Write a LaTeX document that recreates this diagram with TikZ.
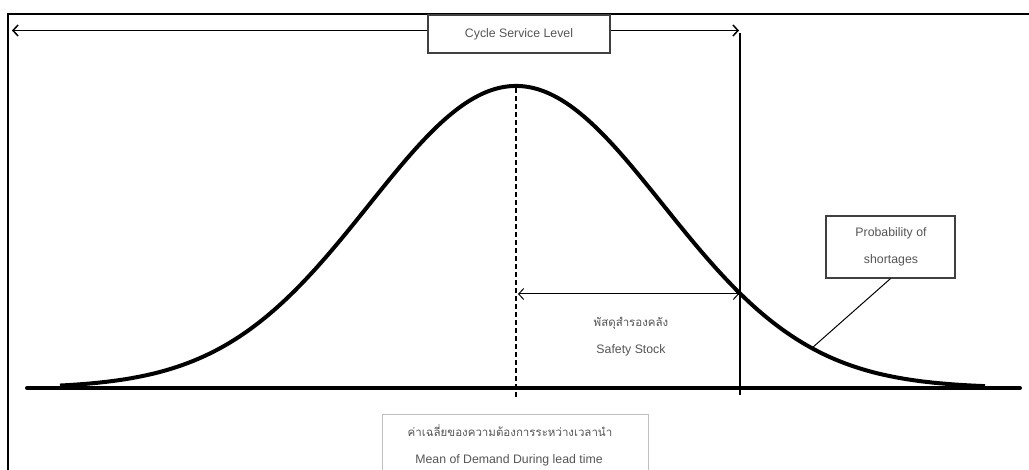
\documentclass[tikz,border=0pt]{standalone}
\usepackage{fontspec}
\setmainfont{Liberation Sans}
\newfontfamily\thaifont[Script=Thai]{Loma}
\usetikzlibrary{arrows.meta}
\definecolor{txt}{HTML}{555555}
\tikzset{
  lbl/.style={text=txt, font=\fontsize{12.3}{14}\selectfont, inner sep=0pt},
  thlbl/.style={text=txt, font=\thaifont\fontsize{11.5}{13}\selectfont, inner sep=0pt},
  dimarrow/.style={line width=1.5pt, {Straight Barb[length=5pt,width=11pt]}-{Straight Barb[length=5pt,width=11pt]}},
  box/.style={draw=black!75, line width=1.2pt, fill=white}
}
\begin{document}
\begin{tikzpicture}[x=1pt,y=-1pt]
\useasboundingbox (0,0) rectangle (1029,470);
\clip (0,0) rectangle (1029,470);
\fill[white] (0,0) rectangle (1029,470);
% frame
\draw[line width=2pt] (8,480) -- (8,14) -- (1040,14);
% vertical line at service level
\coordinate (vtop) at (740,33);
\coordinate (vbot) at (740,395);
\draw[line width=1.3pt] (vtop) -- (vbot);
% dashed mean line
\coordinate (mtop) at (516,88);
\coordinate (mbot) at (516,397);
\draw[line width=1.3pt, dash pattern=on 5pt off 3pt] (mtop) -- (mbot);
% bell curve
\draw[line width=4pt, line join=round] plot[domain=60:985, samples=300, smooth] (\x, {388 - 302*exp(-((\x-516)/147)^2/2)});
% baseline
\coordinate (bl) at (27,388);
\coordinate (br) at (1020,388);
\draw[line width=4pt, line cap=round] (bl) -- (br);
% top arrow
\coordinate (tl) at (12,30.5);
\coordinate (tr) at (739,30.5);
\draw[dimarrow] (tl) -- (tr);
\node[box, minimum width=182pt, minimum height=38pt] (csl) at (519,34) {};
\node[lbl] at (csl.center) {Cycle Service Level};
% safety stock arrow
\coordinate (sl) at (518,294);
\coordinate (sr) at (739,294);
\draw[dimarrow, line width=1pt] (sl) -- (sr);
\node[thlbl] (ssth) at (631,323) {พัสดุสำรองคลัง};
\node[lbl] (ss) at (631,350) {Safety Stock};
% probability of shortages
\node[box, minimum width=129pt, minimum height=62pt] (pos) at (890.5,247) {};
\node[lbl] at (891,233) {Probability of};
\node[lbl] at (891,260) {shortages};
\coordinate (tail) at (812,348);
\draw[line width=1pt] (pos.south) -- (tail);
% mean box
\draw[draw=black!25, line width=1pt, fill=white] (382,415) rectangle (648,490);
\node[thlbl] (meanth) at (510,431) {ค่าเฉลี่ยของความต้องการระหว่างเวลานำ};
\node[lbl] (mean) at (509,460) {Mean of Demand  During lead time};
\end{tikzpicture}
\end{document}
